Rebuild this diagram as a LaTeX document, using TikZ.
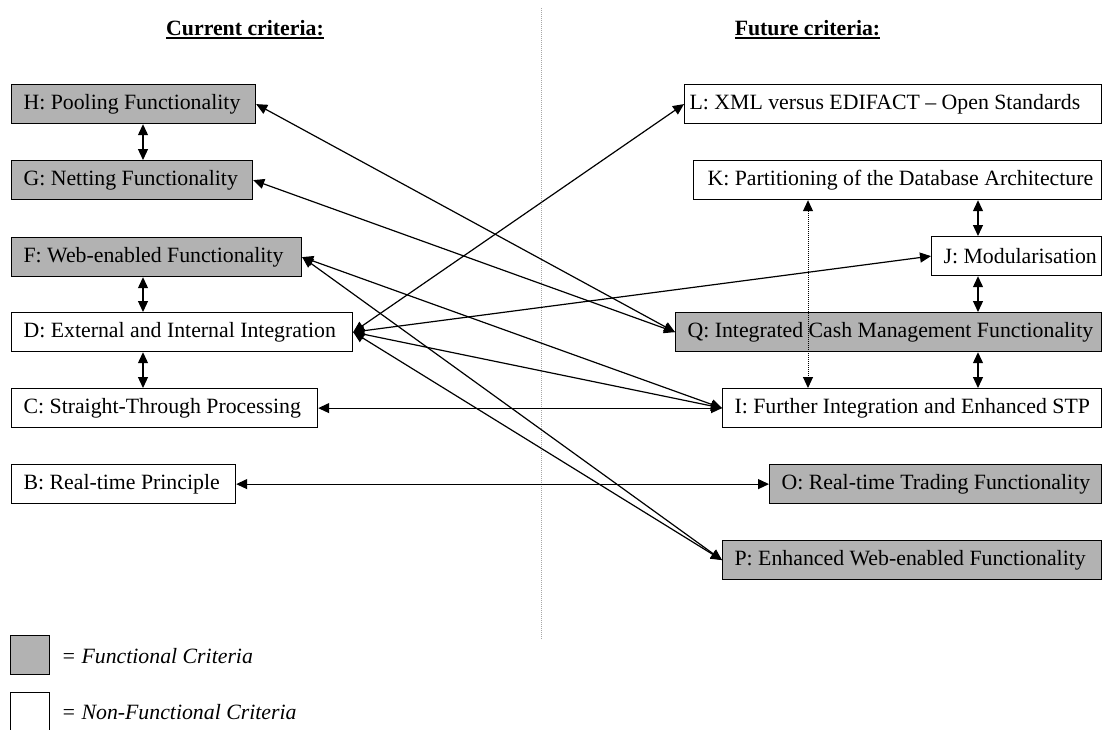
\documentclass[tikz,border=0pt]{standalone}
\usepackage{fontspec}
\setmainfont{Liberation Serif}
\usetikzlibrary{arrows.meta,calc}
\definecolor{funcgray}{gray}{0.7}
\newlength\headw
% bold heading with a heavy underline
\newcommand\headline[1]{\settowidth\headw{#1}\rlap{\rule[-2.2pt]{\headw}{1.1pt}}#1}
\begin{document}
\begin{tikzpicture}[x=0.5pt,y=-0.5pt,
  font=\fontsize{10.9pt}{13pt}\selectfont,
  crit/.style={draw=black, line width=0.6pt, anchor=north west,
    minimum height=19.5pt, inner xsep=0pt, inner ysep=0pt,
    execute at begin node={\hbox to #1\bgroup\hskip6pt},
    execute at end node={\hfil\egroup}},
  func/.style={crit=#1, fill=funcgray},
  tip/.tip={Triangle[length=5.5pt,width=5pt]},
  link/.style={tip-tip, line width=0.6pt},
  heading/.style={font=\fontsize{10.9pt}{13pt}\selectfont\bfseries, anchor=base, inner sep=0pt},
  keybox/.style={draw=black, line width=0.6pt, anchor=north west,
    minimum width=19.5pt, minimum height=19.5pt, inner sep=0pt},
  keytext/.style={font=\fontsize{10.9pt}{13pt}\selectfont\itshape, anchor=base west, inner sep=0pt}
]
\useasboundingbox (0,0) rectangle (1103,729);

% headings and divider
\node[heading] (curh) at (245,35) {\headline{Current criteria:}};
\node[heading] (futh) at (807.5,35) {\headline{Future criteria:}};
\coordinate (divtop) at (541,8);
\coordinate (divbot) at (541,640);
\draw[gray!70, line width=0.5pt, dash pattern=on 0.5pt off 0.5pt] (divtop) -- (divbot);

% current criteria
\node[func=122pt]   (H) at (11,84)  {H: Pooling Functionality};
\node[func=120.5pt] (G) at (11,160) {G: Netting Functionality};
\node[func=145pt]   (F) at (11,237) {F: Web-enabled Functionality};
\node[crit=170.5pt] (D) at (11,312) {D: External and Internal Integration};
\node[crit=153pt]   (C) at (11,388) {C: Straight-Through Processing};
\node[crit=112pt]   (B) at (11,464) {B: Real-time Principle};

% future criteria
\node[crit=208.5pt] (L) at (684,84) {\hskip-3.5pt L: XML versus EDIFACT -- Open Standards};
\node[crit=204pt]   (K) at (693,160) {\hskip1pt K: Partitioning of the Database Architecture};
\node[crit=85pt]    (J) at (931,236) {J: Modularisation};
\node[func=213pt]   (Q) at (675,312) {Q: Integrated Cash Management Functionality};
\node[crit=189.5pt] (I) at (722,388) {I: Further Integration and Enhanced STP};
\node[func=166pt]   (O) at (769,464) {O: Real-time Trading Functionality};
\node[func=189.5pt] (P) at (722,540) {P: Enhanced Web-enabled Functionality};

% columns of the vertical links
\coordinate (lcol) at (143,0);
\coordinate (rcol) at (978,0);
\coordinate (dcol) at (808,0);

\draw[link] (H.south -| lcol) -- (G.north -| lcol);
\draw[link] (F.south -| lcol) -- (D.north -| lcol);
\draw[link] (D.south -| lcol) -- (C.north -| lcol);
\draw[link] (K.south -| rcol) -- (J.north -| rcol);
\draw[link] (J.south -| rcol) -- (Q.north -| rcol);
\draw[link] (Q.south -| rcol) -- (I.north -| rcol);
\draw[link, line width=0.5pt, dash pattern=on 0.5pt off 0.5pt] (K.south -| dcol) -- (I.north -| dcol);

% links between current and future criteria
\draw[link] (H.east) -- (Q.west);
\draw[link] (G.east) -- (Q.west);
\draw[link] (F.east) -- (I.west);
\draw[link] (F.east) -- (P.west);
\draw[link] (D.east) -- (L.west);
\draw[link] (D.east) -- (J.west);
\draw[link] (D.east) -- (I.west);
\draw[link] (D.east) -- (P.west);
\draw[link] (C.east) -- (I.west);
\draw[link] (B.east) -- (O.west);

% key
\node[keybox, fill=funcgray] (fkey) at (10,635) {};
\node[keytext] (fkeyt) at (61,663) {= Functional Criteria};
\node[keybox] (nkey) at (10,692) {};
\node[keytext] (nkeyt) at (61,719) {= Non-Functional Criteria};
\end{tikzpicture}
\end{document}
